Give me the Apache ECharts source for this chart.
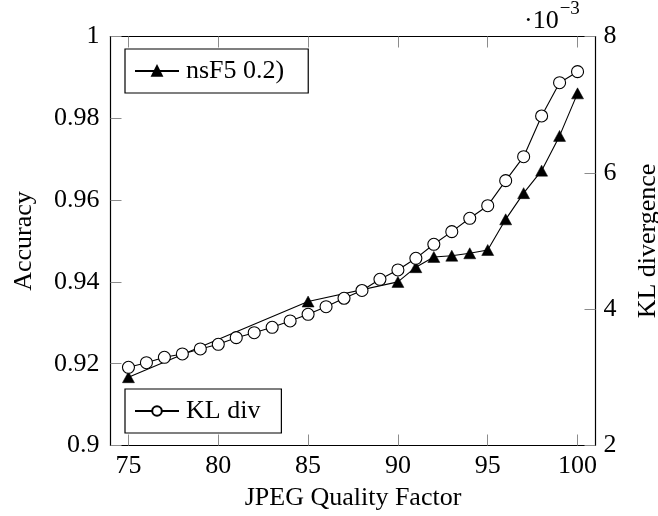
<!DOCTYPE html>
<html>
<head>
<meta charset="utf-8">
<script src="https://cdn.jsdelivr.net/npm/echarts@6/dist/echarts.min.js"></script>
<style>html,body{margin:0;padding:0;background:#fff;}#c{width:658px;height:516px;}</style>
</head>
<body>
<div id="c"></div>
<script>
// JPEG quality factors
const nsf5X = [75, 85, 90, 91, 92, 93, 94, 95, 96, 97, 98, 99, 100];
const nsf5Acc = [0.9167, 0.9352, 0.9400, 0.9436, 0.9461, 0.9464, 0.9470, 0.9478, 0.9553, 0.9617, 0.9672, 0.9757, 0.9861];
const klX = [75, 76, 77, 78, 79, 80, 81, 82, 83, 84, 85, 86, 87, 88, 89, 90, 91, 92, 93, 94, 95, 96, 97, 98, 99, 100];
// KL divergence in units of 1e-3
const klDiv = [3.147, 3.215, 3.294, 3.343, 3.416, 3.485, 3.582, 3.655, 3.734, 3.827, 3.925, 4.036, 4.160, 4.274, 4.438, 4.575, 4.746, 4.952, 5.137, 5.333, 5.518, 5.885, 6.237, 6.834, 7.322, 7.484];
const xTicks = [75, 80, 85, 90, 95, 100];
const seriesNames = ['nsF5 0.2)', 'KL div'];

const FONT = '"Liberation Serif", "Times New Roman", serif';
const chart = echarts.init(document.getElementById('c'), null, {renderer: 'canvas'});
const tickStyle = {show: true, inside: true, length: 11, lineStyle: {color: '#8c8c8c', width: 1}};
const axisLine = {show: true, onZero: false, lineStyle: {color: '#000', width: 1.2}};
chart.setOption({
  animation: false,
  backgroundColor: '#fff',
  grid: {left: 110.5, right: 62.5, top: 36.5, bottom: 70.5, containLabel: false, outerBoundsMode: 'none'},
  legend: [
    {
      data: [seriesNames[0]], left: 125, top: 49, orient: 'vertical',
      itemWidth: 44, itemHeight: 12, itemGap: 0,
      padding: [9, 24, 9, 9], borderColor: '#000', borderWidth: 1.2, borderRadius: 0,
      textStyle: {fontFamily: FONT, fontSize: 26, color: '#000', padding: [0, 0, 0, 2]}
    },
    {
      data: [seriesNames[1]], left: 125, top: 389, orient: 'vertical',
      itemWidth: 44, itemHeight: 12, itemGap: 0,
      padding: [9, 21, 9, 9], borderColor: '#000', borderWidth: 1.2, borderRadius: 0,
      textStyle: {fontFamily: FONT, fontSize: 26, color: '#000', padding: [0, 0, 0, 2]}
    }
  ],
  xAxis: [
    {
      type: 'value', min: 74, max: 101, position: 'bottom',
      name: 'JPEG Quality Factor', nameLocation: 'middle', nameGap: 40,
      nameTextStyle: {fontFamily: FONT, fontSize: 26, color: '#000'},
      axisLine: axisLine,
      axisTick: Object.assign({customValues: xTicks}, tickStyle),
      axisLabel: {customValues: xTicks, fontFamily: FONT, fontSize: 26, color: '#000', margin: 8},
      splitLine: {show: false}
    },
    {
      type: 'value', min: 74, max: 101, position: 'top',
      axisLine: axisLine,
      axisTick: Object.assign({customValues: xTicks}, tickStyle),
      axisLabel: {show: false},
      splitLine: {show: false}
    }
  ],
  yAxis: [
    {
      type: 'value', min: 0.9, max: 1, interval: 0.02, position: 'left',
      name: 'Accuracy', nameLocation: 'middle', nameGap: 73, nameRotate: 90,
      nameTextStyle: {fontFamily: FONT, fontSize: 26, color: '#000'},
      axisLine: axisLine, axisTick: tickStyle,
      axisLabel: {fontFamily: FONT, fontSize: 26, color: '#000', margin: 11,
        formatter: v => (Math.abs(v - 1) < 1e-9 ? '1' : (Math.abs(v - 0.9) < 1e-9 ? '0.9' : v.toFixed(2)))},
      splitLine: {show: false}
    },
    {
      type: 'value', min: 2, max: 8, interval: 2, position: 'right',
      name: 'KL divergence', nameLocation: 'middle', nameGap: 40, nameRotate: 90,
      nameTextStyle: {fontFamily: FONT, fontSize: 26, color: '#000'},
      axisLine: axisLine, axisTick: tickStyle,
      axisLabel: {fontFamily: FONT, fontSize: 26, color: '#000', margin: 8},
      splitLine: {show: false}
    }
  ],
  graphic: [
    {
      type: 'text', left: 524, top: 0,
      style: {
        text: '{a|·10}{b|−3}',
        rich: {
          a: {fontFamily: FONT, fontSize: 26, fill: '#000', verticalAlign: 'bottom', lineHeight: 34},
          b: {fontFamily: FONT, fontSize: 19, fill: '#000', verticalAlign: 'top', lineHeight: 34, padding: [0, 0, 12, 1]}
        }
      }
    }
  ],
  series: [
    {
      name: seriesNames[0], type: 'line', xAxisIndex: 0, yAxisIndex: 0,
      data: nsf5X.map((x, i) => [x, nsf5Acc[i]]),
      symbol: 'triangle', symbolSize: [12, 11], showAllSymbol: true,
      lineStyle: {color: '#000', width: 1.1},
      itemStyle: {color: '#000', borderColor: '#000', borderWidth: 0.5},
      z: 3
    },
    {
      name: seriesNames[1], type: 'line', xAxisIndex: 0, yAxisIndex: 1,
      data: klX.map((x, i) => [x, klDiv[i]]),
      symbol: 'circle', symbolSize: 12, showAllSymbol: true,
      lineStyle: {color: '#000', width: 1.1},
      itemStyle: {color: '#fff', borderColor: '#000', borderWidth: 1.1},
      z: 4
    }
  ]
});
</script>
</body>
</html>
